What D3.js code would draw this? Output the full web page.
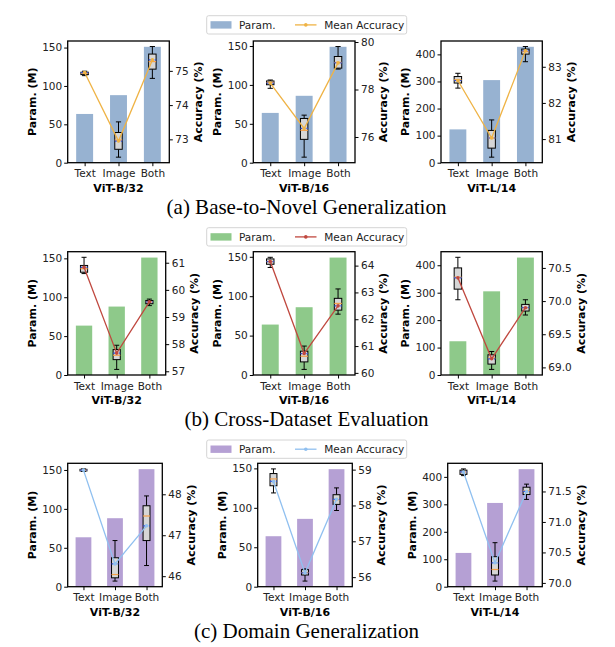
<!DOCTYPE html>
<html lang="en">
<head>
<meta charset="utf-8">
<title>Param. vs Accuracy</title>
<script src="https://d3js.org/d3.v7.min.js"></script>
<style>
  body { margin: 0; background: #fff; }
  .axis text { font-family: "DejaVu Sans", sans-serif; font-size: 10.5px; fill: #222; }
  .axis line { stroke: #000; stroke-width: 1; }
  .axis path { display: none; }
  .lab { font-family: "DejaVu Sans", sans-serif; font-weight: bold; font-size: 11px; fill: #000; }
  .legend text { font-family: "DejaVu Sans", sans-serif; font-size: 10.5px; fill: #222; }
  .caption { font-family: "Liberation Serif", "Times New Roman", serif; font-size: 21px; fill: #000; }
</style>
</head>
<body>
<div id="chart"></div>
<script>
// data
const categories = ["Text", "Image", "Both"];
const backbones = ["ViT-B/32", "ViT-B/16", "ViT-L/14"];
const paramsM = [[63.5, 88, 151], [64, 86, 149], [123, 305, 428]];
const paramTicksB = [0, 50, 100, 150];
const paramTicksL = [0, 100, 200, 300, 400];
const captions = ["(a) Base-to-Novel Generalization", "(b) Cross-Dataset Evaluation", "(c) Domain Generalization"];

// accuracy boxes: [min, q1, median, q3, max, mean] for Text, Image, Both
const baseToNovel = [
  [[74.86, 74.89, 74.93, 74.96, 74.99, 74.95], [72.48, 72.71, 72.98, 73.2, 73.51, 72.95], [74.78, 75.05, 75.27, 75.49, 75.71, 75.32]],
  [[78.05, 78.2, 78.3, 78.36, 78.4, 78.27], [75.15, 75.9, 76.28, 76.78, 76.92, 76.36], [78.86, 78.9, 79.14, 79.39, 79.81, 79.12]],
  [[82.41, 82.55, 82.64, 82.73, 82.82, 82.62], [80.5, 80.75, 81.03, 81.24, 81.53, 81.03], [83.14, 83.35, 83.42, 83.49, 83.56, 83.44]]
];
const crossDataset = [
  [[60.6, 60.65, 60.78, 60.9, 61.2, 60.83], [57.07, 57.43, 57.59, 57.8, 57.96, 57.67], [59.42, 59.49, 59.56, 59.61, 59.66, 59.56]],
  [[63.93, 64.05, 64.15, 64.25, 64.31, 64.15], [60.13, 60.41, 60.62, 60.81, 61.0, 60.72], [62.19, 62.34, 62.59, 62.78, 63.13, 62.5]],
  [[70.02, 70.18, 70.36, 70.5, 70.66, 70.35], [68.97, 69.05, 69.14, 69.19, 69.24, 69.13], [69.79, 69.85, 69.9, 69.95, 70.02, 69.9]]
];
const domainGen = [
  [[48.56, 48.57, 48.59, 48.61, 48.62, 48.59], [45.88, 45.96, 46.04, 46.45, 46.87, 46.3], [46.26, 46.87, 47.47, 47.72, 47.96, 47.23]],
  [[58.35, 58.55, 58.74, 58.89, 59.02, 58.67], [55.89, 56.06, 56.13, 56.21, 56.23, 56.12], [57.86, 58.03, 58.16, 58.3, 58.49, 58.17]],
  [[71.76, 71.78, 71.82, 71.85, 71.87, 71.82], [70.03, 70.13, 70.22, 70.43, 70.66, 70.33], [71.37, 71.45, 71.51, 71.57, 71.62, 71.5]]
];
const accTicks = [
  [[73, 74, 75], [76, 78, 80], [81, 82, 83]],
  [[57, 58, 59, 60, 61], [60, 61, 62, 63, 64], [69, 69.5, 70, 70.5]],
  [[46, 47, 48], [56, 57, 58, 59], [70, 70.5, 71, 71.5]]
];

// layout
const width = 615, height = 647;
const rowsY = [[41, 162.7], [251.7, 375], [463.3, 586.7]];
const panelX = [
  [[67.7, 169.3], [253.3, 355], [441, 542.3]],
  [[67.7, 165.7], [253.3, 355], [441, 542.3]],
  [[67.7, 162.3], [257.7, 352.3], [447.7, 542.3]]
];
const legendTop = [15.7, 227.7, 440];
const captionY = [213.5, 425.5, 638];
const rowColors = [
  { bar: "#97b2d1", line: "#efb345" },
  { bar: "#8ec98a", line: "#c0483f" },
  { bar: "#b5a0d4", line: "#90c0f0" }
];
const rowData = [baseToNovel, crossDataset, domainGen];

const svg = d3.select("#chart").append("svg")
  .attr("width", width)
  .attr("height", height);

rowData.forEach((panels, r) => {
  const [top, bottom] = rowsY[r];
  const col = rowColors[r];

  panels.forEach((boxes, p) => {
    const [left, right] = panelX[r][p];
    const g = svg.append("g");

    const x = d3.scaleLinear().domain([-0.5, 2.5]).range([left, right]);
    const unit = x(1) - x(0);
    const pMax = d3.max(paramsM[p]);
    const yP = d3.scaleLinear().domain([0, pMax * 1.05]).range([bottom, top]);
    const lo = d3.min(boxes, d => d[0]), hi = d3.max(boxes, d => d[4]);
    const m = (hi - lo) * 0.05;
    const yA = d3.scaleLinear().domain([lo - m, hi + m]).range([bottom, top]);

    // bars
    g.selectAll("rect.bar")
      .data(paramsM[p])
      .enter()
      .append("rect")
      .attr("class", "bar")
      .attr("x", (d, i) => x(i) - unit * 0.25)
      .attr("width", unit * 0.5)
      .attr("y", d => yP(d))
      .attr("height", d => bottom - yP(d))
      .attr("fill", col.bar);

    // boxplots
    const bw = unit * 0.22;
    boxes.forEach((b, i) => {
      const cx = x(i);
      const bg = g.append("g");
      bg.append("line").attr("x1", cx).attr("x2", cx).attr("y1", yA(b[0])).attr("y2", yA(b[1]))
        .attr("stroke", "#000").attr("stroke-width", 1);
      bg.append("line").attr("x1", cx).attr("x2", cx).attr("y1", yA(b[3])).attr("y2", yA(b[4]))
        .attr("stroke", "#000").attr("stroke-width", 1);
      [b[0], b[4]].forEach(v => {
        bg.append("line").attr("x1", cx - bw * 0.35).attr("x2", cx + bw * 0.35)
          .attr("y1", yA(v)).attr("y2", yA(v))
          .attr("stroke", "#000").attr("stroke-width", 1);
      });
      bg.append("rect")
        .attr("x", cx - bw / 2).attr("width", bw)
        .attr("y", yA(b[3])).attr("height", Math.max(yA(b[1]) - yA(b[3]), 1))
        .attr("fill", "#d6d6d6").attr("stroke", "#000").attr("stroke-width", 1);
      bg.append("line").attr("x1", cx - bw / 2).attr("x2", cx + bw / 2)
        .attr("y1", yA(b[2])).attr("y2", yA(b[2]))
        .attr("stroke", "#f5a04a").attr("stroke-width", 1.2);
      bg.append("line").attr("x1", cx - bw / 2).attr("x2", cx + bw / 2)
        .attr("y1", yA(b[5])).attr("y2", yA(b[5]))
        .attr("stroke", "#3050d8").attr("stroke-width", 1.2).attr("stroke-dasharray", "2,1");
    });

    // mean accuracy line
    const line = d3.line().x((d, i) => x(i)).y(d => yA(d[5]));
    g.append("path")
      .datum(boxes)
      .attr("d", line)
      .attr("fill", "none")
      .attr("stroke", col.line)
      .attr("stroke-width", 1.3);
    g.selectAll("circle.mean")
      .data(boxes)
      .enter()
      .append("circle")
      .attr("class", "mean")
      .attr("cx", (d, i) => x(i))
      .attr("cy", d => yA(d[5]))
      .attr("r", 1.8)
      .attr("fill", col.line);

    // frame
    g.append("rect")
      .attr("x", left).attr("y", top)
      .attr("width", right - left).attr("height", bottom - top)
      .attr("fill", "none").attr("stroke", "#000").attr("stroke-width", 1.3);

    // axes
    g.append("g").attr("class", "axis")
      .attr("transform", "translate(" + left + ",0)")
      .call(d3.axisLeft(yP).tickValues(p === 2 ? paramTicksL : paramTicksB).tickSize(3.5).tickPadding(2));

    const fmt = accTicks[r][p].some(v => v % 1 !== 0) ? d3.format(".1f") : d3.format("d");
    const rAxis = g.append("g").attr("class", "axis")
      .attr("transform", "translate(" + right + ",0)")
      .call(d3.axisRight(yA).tickValues(accTicks[r][p]).tickFormat(fmt).tickSize(3.5).tickPadding(2.5));

    g.append("g").attr("class", "axis")
      .attr("transform", "translate(0," + bottom + ")")
      .call(d3.axisBottom(x).tickValues([0, 1, 2]).tickFormat(i => categories[i]).tickSize(3.5).tickPadding(3.8));

    // labels
    g.append("text").attr("class", "lab")
      .attr("text-anchor", "middle")
      .attr("x", (left + right) / 2)
      .attr("y", bottom + 29)
      .text(backbones[p]);

    const cy = (top + bottom) / 2;
    g.append("text").attr("class", "lab")
      .attr("text-anchor", "middle")
      .attr("transform", "translate(" + (left - 32) + "," + cy + ") rotate(-90)")
      .text("Param. (M)");

    let tw = 0;
    rAxis.selectAll("text").each(function () { tw = Math.max(tw, this.getComputedTextLength()); });
    g.append("text").attr("class", "lab")
      .attr("text-anchor", "middle")
      .attr("transform", "translate(" + (right + 6 + tw + 13) + "," + cy + ") rotate(-90)")
      .text("Accuracy (%)");
  });

  // legend
  const lg = svg.append("g").attr("class", "legend");
  const ly = legendTop[r];
  lg.append("rect")
    .attr("x", 206.7).attr("y", ly).attr("width", 200).attr("height", 18.3)
    .attr("rx", 2).attr("fill", "#fff").attr("stroke", "#d4d4d4").attr("stroke-width", 1);
  lg.append("rect")
    .attr("x", 210.5).attr("y", ly + 5.5).attr("width", 21).attr("height", 7.4)
    .attr("fill", col.bar);
  lg.append("text").attr("x", 239).attr("y", ly + 13).text("Param.");
  lg.append("line")
    .attr("x1", 295).attr("x2", 316.5).attr("y1", ly + 9.2).attr("y2", ly + 9.2)
    .attr("stroke", col.line).attr("stroke-width", 1.3);
  lg.append("circle").attr("cx", 305.8).attr("cy", ly + 9.2).attr("r", 1.8).attr("fill", col.line);
  lg.append("text").attr("x", 324.3).attr("y", ly + 13).text("Mean Accuracy");

  // caption
  svg.append("text").attr("class", "caption")
    .attr("text-anchor", "middle")
    .attr("x", 306.5)
    .attr("y", captionY[r])
    .text(captions[r]);
});
</script>
</body>
</html>
